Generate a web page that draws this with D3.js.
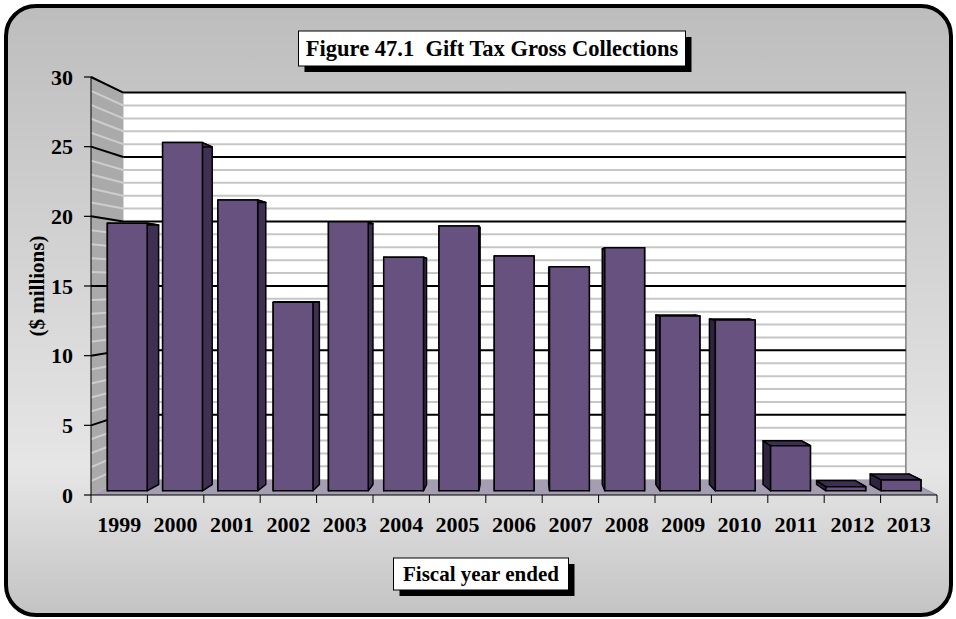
<!DOCTYPE html>
<html>
<head>
<meta charset="utf-8">
<script src="https://cdn.jsdelivr.net/npm/d3@7"></script>
<style>
  html, body { margin: 0; padding: 0; background: #ffffff; }
  svg { display: block; }
  text { font-family: "Liberation Serif", "Times New Roman", serif; font-weight: bold; fill: #000; white-space: pre; }
</style>
</head>
<body>
<svg id="chart" width="956" height="619"></svg>
<script>
// Gift tax gross collections, $ millions, by fiscal year
const years = ["1999", "2000", "2001", "2002", "2003", "2004", "2005", "2006",
               "2007", "2008", "2009", "2010", "2011", "2012", "2013"];
const collections = [19.6, 25.5, 21.3, 13.8, 19.7, 17.1, 19.4, 17.2,
                     16.4, 17.8, 12.8, 12.5, 3.3, 0.3, 0.8];
const yTicks = [0, 5, 10, 15, 20, 25, 30];
const minorTicks = d3.range(0, 31, 1).filter(v => v % 5 !== 0);

const titleText = "Figure 47.1  Gift Tax Gross Collections";
const xAxisTitle = "Fiscal year ended";
const yAxisTitle = "($ millions)";

const svg = d3.select("#chart");

// Panel background
const defs = svg.append("defs");
const grad = defs.append("linearGradient").attr("id", "panelGrad")
  .attr("x1", 0).attr("y1", 0).attr("x2", 0).attr("y2", 1);
grad.append("stop").attr("offset", "0%").attr("stop-color", "#bdbdbd");
grad.append("stop").attr("offset", "76%").attr("stop-color", "#e6e6e6");
grad.append("stop").attr("offset", "100%").attr("stop-color", "#c3c3c3");

svg.append("rect")
  .attr("x", 6).attr("y", 6).attr("width", 945).attr("height", 609)
  .attr("rx", 30).attr("ry", 30)
  .attr("fill", "url(#panelGrad)")
  .attr("stroke", "#000").attr("stroke-width", 4);

// Front-plane scales
const x = d3.scaleBand().domain(years).range([91, 937])
  .paddingInner(0.28).paddingOuter(0.14);
const xEdge = d3.scaleLinear().domain([0, years.length]).range([91, 937]);
const y = d3.scaleLinear().domain([0, 30]).range([495, 77]);

// Simple perspective: points shrink toward a vanishing point with depth
const VX = 522, VY = 285;
const D_FRONT = 1, D_BAR_FRONT = 0.98, D_BAR_BACK = 0.95, D_WALL = 0.925;
const proj = (px, py, s) => [VX + s * (px - VX), VY + s * (py - VY)];
const poly = pts => "M" + pts.map(p => p.join(",")).join("L") + "Z";
const line = (a, b) => "M" + a.join(",") + "L" + b.join(",");

const xL = xEdge(0), xR = xEdge(years.length);
const y0 = y(0), yTop = y(30);

const plot = svg.append("g");

// Floor
plot.append("path")
  .attr("d", poly([proj(xL, y0, D_FRONT), proj(xR, y0, D_FRONT),
                   proj(xR, y0, D_WALL), proj(xL, y0, D_WALL)]))
  .attr("fill", "#a59db2");

// Back wall
plot.append("path")
  .attr("d", poly([proj(xL, yTop, D_WALL), proj(xR, yTop, D_WALL),
                   proj(xR, y0, D_WALL), proj(xL, y0, D_WALL)]))
  .attr("fill", "#ffffff");

// Side wall
plot.append("path")
  .attr("d", poly([proj(xL, yTop, D_FRONT), proj(xL, yTop, D_WALL),
                   proj(xL, y0, D_WALL), proj(xL, y0, D_FRONT)]))
  .attr("fill", "#aaaaaa");

// Minor gridlines
minorTicks.forEach(v => {
  plot.append("path")
    .attr("d", line(proj(xL, y(v), D_WALL), proj(xR, y(v), D_WALL)))
    .attr("stroke", "#c6c6c6").attr("stroke-width", 2).attr("fill", "none");
  plot.append("path")
    .attr("d", line(proj(xL, y(v), D_FRONT), proj(xL, y(v), D_WALL)))
    .attr("stroke", "#cdcdcd").attr("stroke-width", 2).attr("fill", "none");
});

// Right edge of back wall and floor
plot.append("path")
  .attr("d", line(proj(xR, yTop, D_WALL), proj(xR, y0, D_WALL)))
  .attr("stroke", "#808080").attr("stroke-width", 1.5);
plot.append("path")
  .attr("d", line(proj(xR, y0, D_WALL), proj(xR, y0, D_FRONT)))
  .attr("stroke", "#8c8c8c").attr("stroke-width", 1);

// Major gridlines
yTicks.filter(v => v > 0).forEach(v => {
  plot.append("path")
    .attr("d", line(proj(xL, y(v), D_FRONT), proj(xL, y(v), D_WALL)) +
               line(proj(xL, y(v), D_WALL), proj(xR, y(v), D_WALL)))
    .attr("stroke", "#000").attr("stroke-width", 2).attr("fill", "none");
});

// Bars
const bars = plot.selectAll("g.bar").data(years.map((yr, i) => ({ yr, v: collections[i] })))
  .enter().append("g").attr("class", "bar");

bars.each(function (d) {
  const g = d3.select(this);
  const a = x(d.yr), b = x(d.yr) + x.bandwidth();
  const t = y(d.v), bot = y(0);
  const F = D_BAR_FRONT, B = D_BAR_BACK;
  const style = sel => sel.attr("stroke", "#000").attr("stroke-width", 1.5)
                          .attr("stroke-linejoin", "round");
  // left side face
  style(g.append("path").attr("d", poly([proj(a, t, F), proj(a, t, B), proj(a, bot, B), proj(a, bot, F)]))
    .attr("fill", "#2f243f"));
  // right side face
  style(g.append("path").attr("d", poly([proj(b, t, F), proj(b, t, B), proj(b, bot, B), proj(b, bot, F)]))
    .attr("fill", "#3f3053"));
  // top face
  style(g.append("path").attr("d", poly([proj(a, t, F), proj(b, t, F), proj(b, t, B), proj(a, t, B)]))
    .attr("fill", "#3d2f51"));
  // front face
  style(g.append("path").attr("d", poly([proj(a, t, F), proj(b, t, F), proj(b, bot, F), proj(a, bot, F)]))
    .attr("fill", "#66517f"));
});

// Axes on the front plane
const axes = svg.append("g");
axes.append("line").attr("x1", xL).attr("x2", xL).attr("y1", yTop).attr("y2", y0)
  .attr("stroke", "#000").attr("stroke-width", 1);
axes.append("line").attr("x1", xL).attr("x2", xR).attr("y1", y0).attr("y2", y0)
  .attr("stroke", "#000").attr("stroke-width", 1);

yTicks.forEach(v => {
  axes.append("line").attr("x1", xL - 7).attr("x2", xL).attr("y1", y(v)).attr("y2", y(v))
    .attr("stroke", "#000").attr("stroke-width", 1.2);
  axes.append("text").attr("x", 73).attr("y", y(v)).attr("dy", "0.35em")
    .attr("text-anchor", "end").style("font-size", "22px").text(v);
});

d3.range(0, years.length + 1).forEach(i => {
  axes.append("line").attr("x1", xEdge(i)).attr("x2", xEdge(i))
    .attr("y1", y0).attr("y2", y0 + 8)
    .attr("stroke", "#000").attr("stroke-width", 1);
});

years.forEach(yr => {
  axes.append("text").attr("x", x(yr) + x.bandwidth() / 2).attr("y", 524)
    .attr("dy", "0.35em").attr("text-anchor", "middle")
    .style("font-size", "22px").text(yr);
});

// Y axis title
svg.append("text")
  .attr("transform", "translate(37,286) rotate(-90)")
  .attr("text-anchor", "middle").attr("dy", "0.35em")
  .style("font-size", "21px").text(yAxisTitle);

// Boxed labels with drop shadow
function shadowBox(cx, top, w, h, label, size) {
  const g = svg.append("g");
  g.append("rect").attr("x", cx - w / 2 + 6).attr("y", top + 6)
    .attr("width", w).attr("height", h).attr("fill", "#000");
  g.append("rect").attr("x", cx - w / 2).attr("y", top)
    .attr("width", w).attr("height", h).attr("fill", "#fff")
    .attr("stroke", "#000").attr("stroke-width", 1);
  g.append("text").attr("x", cx).attr("y", top + h / 2).attr("dy", "0.35em")
    .attr("text-anchor", "middle").style("font-size", size + "px").text(label);
}
shadowBox(492, 31, 387, 35, titleText, 22.5);
shadowBox(481, 558, 175, 32, xAxisTitle, 21);
</script>
</body>
</html>
